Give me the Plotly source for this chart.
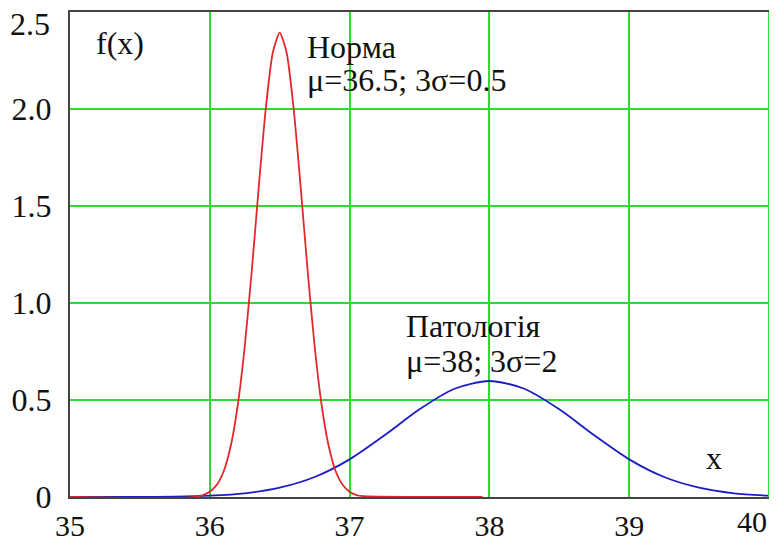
import plotly.graph_objects as go

# Norm curve (red)
norm_x = [35.0, 35.9, 36.0, 36.05, 36.1, 36.15, 36.2, 36.25, 36.3, 36.35, 36.4, 36.45, 36.5,
          36.55, 36.6, 36.65, 36.7, 36.75, 36.8, 36.85, 36.9, 36.95, 37.0, 37.05, 37.1, 37.95]
norm_y = [0.0, 0.0, 0.027, 0.063, 0.134, 0.264, 0.474, 0.777, 1.165, 1.597, 2.000, 2.289, 2.394,
          2.289, 2.000, 1.597, 1.165, 0.777, 0.474, 0.264, 0.134, 0.063, 0.027, 0.010, 0.004, 0.0]

# Pathology curve (blue)
path_x = [35.0, 35.5, 35.75, 36.0, 36.25, 36.5, 36.75, 37.0, 37.25, 37.5, 37.75, 38.0,
          38.25, 38.5, 38.75, 39.0, 39.25, 39.5, 39.75, 40.0]
path_y = [0.0, 0.0005, 0.002, 0.007, 0.019, 0.048, 0.103, 0.194, 0.318, 0.452, 0.558, 0.598,
          0.558, 0.452, 0.318, 0.194, 0.103, 0.048, 0.019, 0.007]

x_ticks = [35, 36, 37, 38, 39, 40]
x_tick_text = ["35", "36", "37", "38", "39", ""]
y_ticks = [0, 0.5, 1.0, 1.5, 2.0, 2.5]
y_tick_text = ["0", "0.5", "1.0", "1.5", "2.0", ""]

FONT = "Liberation Serif"
FS = 32
XFS = 30
GRID = "#2ddd2d"

fig = go.Figure()
fig.add_trace(go.Scatter(x=path_x, y=path_y, mode="lines", line=dict(color="#1c1cc4", width=1.8, shape="spline", smoothing=0.8), hoverinfo="skip"))
fig.add_trace(go.Scatter(x=norm_x, y=norm_y, mode="lines", line=dict(color="#e22828", width=1.8, shape="spline", smoothing=0.6), hoverinfo="skip"))

ann = [
    ("f(x)", 35.17, 2.34),
    ("Норма", 36.68, 2.32),
    ("μ=36.5; 3σ=0.5", 36.68, 2.15),
    ("Патологія", 37.39, 0.88),
    ("μ=38; 3σ=2", 37.39, 0.70),
]
for t, ax, ay in ann:
    fig.add_annotation(x=ax, y=ay, text=t, showarrow=False, xanchor="left", yanchor="middle",
                       font=dict(family=FONT, size=FS, color="#111"))
fig.add_annotation(x=39.61, y=0.20, text="x", showarrow=False, xanchor="center", yanchor="middle",
                   font=dict(family=FONT, size=FS, color="#111"))

# edge tick labels, shifted inward as in the reference
fig.add_annotation(xref="paper", yref="paper", x=1.0, y=0, text="40", showarrow=False,
                   xanchor="right", yanchor="top", yshift=-6, font=dict(family=FONT, size=XFS, color="#111"))
fig.add_annotation(xref="paper", yref="paper", x=0, y=1.0, text="2.5", showarrow=False,
                   xanchor="right", yanchor="top", xshift=-18, yshift=8, font=dict(family=FONT, size=FS, color="#111"))

fig.update_layout(
    width=777, height=543,
    margin=dict(l=70, r=8, t=12, b=46, autoexpand=False),
    paper_bgcolor="white", plot_bgcolor="white",
    showlegend=False,
    font=dict(family=FONT, size=FS, color="#111"),
)
fig.update_xaxes(range=[34.9999, 40.0001], tickvals=x_ticks, ticktext=x_tick_text, showgrid=True, gridcolor=GRID, gridwidth=1.5,
                 showline=True, linecolor="#444", linewidth=2, mirror=True, zeroline=False, automargin=False,
                 ticks="", ticklabelstandoff=1, ticklabeloverflow="allow",
                 tickfont=dict(family=FONT, size=XFS, color="#111"))
fig.update_yaxes(range=[-0.00001, 2.50001], tickvals=y_ticks, ticktext=y_tick_text, showgrid=True, gridcolor=GRID,
                 gridwidth=1.5, showline=True, linecolor="#444", linewidth=2, zeroline=False, automargin=False,
                 ticks="", ticklabelstandoff=10, ticklabeloverflow="allow",
                 tickfont=dict(family=FONT, size=FS, color="#111"))
fig.add_shape(type="line", xref="x", yref="paper", x0=40, x1=40, y0=0, y1=1,
              line=dict(color=GRID, width=2))

fig.write_html("out.html")
